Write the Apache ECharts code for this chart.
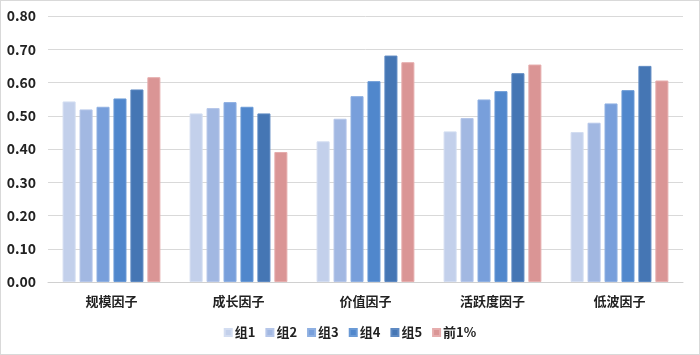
<!DOCTYPE html>
<html>
<head>
<meta charset="utf-8">
<script src="https://cdn.jsdelivr.net/npm/echarts@6/dist/echarts.min.js"></script>
<style>
html,body{margin:0;padding:0;background:#fff;}
#c{width:698px;height:353px;border:1px solid #d9d9d9;}
</style>
</head>
<body>
<div id="c"></div>
<script>
const categories = ['规模因子','成长因子','价值因子','活跃度因子','低波因子'];
const seriesNames = ['组1','组2','组3','组4','组5','前1%'];
const g1 = [0.543, 0.507, 0.423, 0.453, 0.451];
const g2 = [0.519, 0.523, 0.491, 0.493, 0.479];
const g3 = [0.527, 0.541, 0.559, 0.549, 0.537];
const g4 = [0.552, 0.527, 0.604, 0.574, 0.577];
const g5 = [0.579, 0.507, 0.681, 0.628, 0.650];
const top1 = [0.616, 0.391, 0.661, 0.654, 0.606];
const colors = ['#c3d0eb','#a2b8e2','#789fdb','#5087cc','#4576b4','#da9595'];
const borders = ['#d3ddf1','#b5c6e9','#8fb0e2','#6a9ad6','#5d89c2','#e6adad'];
const allData = [g1,g2,g3,g4,g5,top1];
const font = '"Noto Sans CJK SC", "Microsoft YaHei", sans-serif';

const chart = echarts.init(document.getElementById('c'));
chart.setOption({
  animation:false,
  textStyle:{fontFamily:font},
  grid:{left:47,right:16,top:15,bottom:72},
  legend:{
    bottom:10, left:'center',
    itemWidth:7, itemHeight:7, itemGap:10,
    icon:'rect',
    textStyle:{fontSize:13,fontWeight:'bold',color:'#222',fontFamily:font,padding:[0,0,0,-2]},
    data:seriesNames
  },
  xAxis:{
    type:'category', data:categories,
    axisLine:{lineStyle:{color:'#d0d0d0'}},
    axisTick:{show:false},
    axisLabel:{fontSize:13,fontWeight:'bold',color:'#222',margin:13,fontFamily:font}
  },
  yAxis:{
    type:'value', min:0, max:0.8, interval:0.1,
    axisLine:{show:false}, axisTick:{show:false},
    splitLine:{lineStyle:{color:'#d9d9d9'}},
    axisLabel:{fontSize:14,fontWeight:'bold',color:'#222',margin:12,fontFamily:font,
      formatter:v=>v.toFixed(2)}
  },
  series: allData.map((d,i)=>({
    name:seriesNames[i], type:'bar', data:d,
    barGap:'30%', barCategoryGap:'23%',
    itemStyle:{color:colors[i], borderColor:borders[i], borderWidth:1}
  }))
});
</script>
</body>
</html>
